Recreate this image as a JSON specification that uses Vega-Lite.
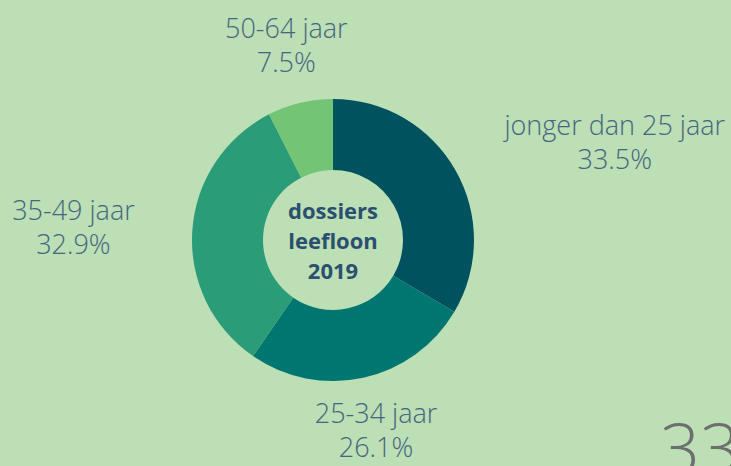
{
  "$schema": "https://vega.github.io/schema/vega-lite/v6.json",
  "width": 666,
  "height": 452,
  "autosize": {"type": "none"},
  "padding": {"left": 0, "top": 14, "right": 65, "bottom": 0},
  "background": "#bcdfb5",
  "config": {"view": {"stroke": null}},
  "title": {
    "text": "33",
    "orient": "bottom",
    "anchor": "end",
    "frame": "group",
    "baseline": "alphabetic",
    "offset": 8,
    "dx": 74,
    "fontSize": 70,
    "fontWeight": 300,
    "font": "Open Sans",
    "color": "#6e6e6e"
  },
  "data": {
    "values": [
      {"cat": "jonger dan 25 jaar", "value": 33.5, "i": 1},
      {"cat": "25-34 jaar", "value": 26.1, "i": 2},
      {"cat": "35-49 jaar", "value": 32.9, "i": 3},
      {"cat": "50-64 jaar", "value": 7.5, "i": 4}
    ]
  },
  "transform": [
    {"calculate": "datum.cat + '\\n' + format(datum.value, '.1f') + '%'", "as": "txt"}
  ],
  "layer": [
    {
      "mark": {"type": "arc", "innerRadius": 70, "outerRadius": 141},
      "encoding": {
        "theta": {"field": "value", "type": "quantitative", "stack": true},
        "order": {"field": "i", "type": "quantitative"},
        "color": {
          "field": "cat",
          "type": "nominal",
          "legend": null,
          "scale": {
            "domain": ["jonger dan 25 jaar", "25-34 jaar", "35-49 jaar", "50-64 jaar"],
            "range": ["#00525e", "#007670", "#2a9d78", "#74c476"]
          }
        }
      }
    },
    {
      "mark": {"type": "text", "radius": 200, "dy": -16, "align": "center", "baseline": "middle", "lineBreak": "\n", "lineHeight": 34, "fontSize": 27, "fontWeight": 300, "font": "Open Sans", "color": "#47657f"},
      "encoding": {
        "theta": {"field": "value", "type": "quantitative", "stack": true},
        "order": {"field": "i", "type": "quantitative"},
        "text": {"condition": {"test": "datum.cat == '50-64 jaar'", "field": "txt"}, "value": ""}
      }
    },
    {
      "mark": {"type": "text", "radius": 200, "dy": -20, "align": "center", "baseline": "middle", "lineBreak": "\n", "lineHeight": 34, "fontSize": 27, "fontWeight": 300, "font": "Open Sans", "color": "#47657f"},
      "encoding": {
        "theta": {"field": "value", "type": "quantitative", "stack": true},
        "order": {"field": "i", "type": "quantitative"},
        "text": {"condition": {"test": "datum.cat == '25-34 jaar'", "field": "txt"}, "value": ""}
      }
    },
    {
      "mark": {"type": "text", "radius": 200, "dx": 108, "dy": -14, "align": "center", "baseline": "middle", "lineBreak": "\n", "lineHeight": 34, "fontSize": 27, "fontWeight": 300, "font": "Open Sans", "color": "#47657f"},
      "encoding": {
        "theta": {"field": "value", "type": "quantitative", "stack": true},
        "order": {"field": "i", "type": "quantitative"},
        "text": {"condition": {"test": "datum.cat == 'jonger dan 25 jaar'", "field": "txt"}, "value": ""}
      }
    },
    {
      "mark": {"type": "text", "radius": 200, "dx": -60, "dy": -15, "align": "center", "baseline": "middle", "lineBreak": "\n", "lineHeight": 34, "fontSize": 27, "fontWeight": 300, "font": "Open Sans", "color": "#47657f"},
      "encoding": {
        "theta": {"field": "value", "type": "quantitative", "stack": true},
        "order": {"field": "i", "type": "quantitative"},
        "text": {"condition": {"test": "datum.cat == '35-49 jaar'", "field": "txt"}, "value": ""}
      }
    },
    {
      "data": {"values": [{"t": "center"}]},
      "mark": {"type": "text", "text": ["dossiers", "leefloon", "2019"], "dy": -28, "align": "center", "baseline": "middle", "lineHeight": 30, "fontSize": 22, "fontWeight": "bold", "font": "Open Sans", "color": "#2b4f6f"},
      "encoding": {}
    }
  ]
}
